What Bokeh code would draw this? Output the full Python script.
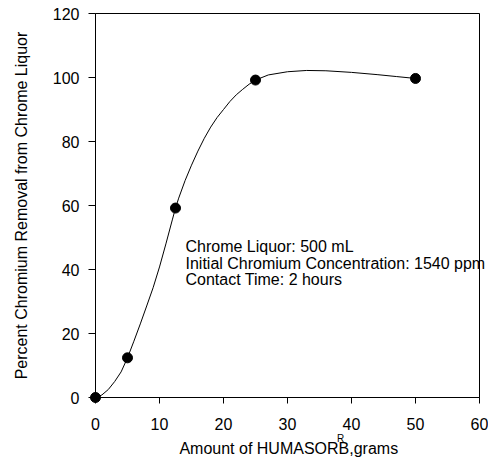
from bokeh.plotting import figure
from bokeh.models import Range1d, FixedTicker
from bokeh.core.properties import value
from bokeh.embed import file_html
from bokeh.resources import INLINE

# measured data points
amount_g = [0, 5, 12.5, 25, 50]
removal_pct = [0, 12.4, 59.2, 99.2, 99.7]

# smooth fitted curve
curve_x = [0, 1, 2, 3, 4, 5, 6, 7, 8, 9, 10, 11, 12, 12.5, 13, 14, 15, 16, 17, 18, 19,
           20, 21, 22, 23, 24, 25, 27, 30, 33, 36, 40, 44, 47, 50]
curve_y = [0, 0.8, 2.5, 5, 8, 12.4, 17.6, 23, 28.6, 34.3, 40.8, 48, 55.5, 59.2, 62.3, 67.8,
           72.6, 77, 81, 84.5, 87.5, 90, 92.5, 94.6, 96.3, 97.9, 99.2, 100.8, 101.8, 102.2,
           102.1, 101.6, 100.9, 100.3, 99.7]

x_ticks = [0, 10, 20, 30, 40, 50, 60]
y_ticks = [0, 20, 40, 60, 80, 100, 120]

x_title = "Amount of HUMASORB,grams"
y_title = "Percent Chromium Removal from Chrome Liquor"

notes = ["Chrome Liquor: 500 mL",
         "Initial Chromium Concentration: 1540 ppm",
         "Contact Time: 2 hours"]
note_x = [14.06, 14.06, 14.06]
note_y = [47.1, 41.9, 36.9]

FONT = "Liberation Sans"

p = figure(width=488, height=459, output_backend="svg", toolbar_location=None,
           x_range=Range1d(0, 60), y_range=Range1d(0, 120),
           min_border_left=95, min_border_right=9, min_border_top=13, min_border_bottom=62)

p.xgrid.visible = False
p.ygrid.visible = False
p.outline_line_color = "black"
p.outline_line_width = 1

p.line(curve_x, curve_y, line_color="black", line_width=1)
p.scatter(amount_g, removal_pct, size=10, color="black", level="overlay")

p.xaxis.ticker = FixedTicker(ticks=x_ticks)
p.yaxis.ticker = FixedTicker(ticks=y_ticks)
for ax in (p.xaxis[0], p.yaxis[0]):
    ax.minor_tick_line_color = None
    ax.major_tick_in = 0
    ax.axis_line_color = "black"
    ax.major_tick_line_color = "black"
    ax.major_label_text_font = FONT
    ax.major_label_text_font_size = "16px"
    ax.major_label_text_color = "black"
    ax.axis_label_text_font = FONT
    ax.axis_label_text_font_size = "16px"
    ax.axis_label_text_font_style = "normal"
    ax.axis_label_text_color = "black"

p.xaxis.major_tick_out = 6
p.yaxis.major_tick_out = 7
p.xaxis.major_label_standoff = 14
p.yaxis.major_label_standoff = 9
p.yaxis.axis_label = y_title
p.yaxis.axis_label_standoff = 20

# x-axis title drawn as text below the frame (exact placement)
p.text([30.2], [-15.8], text=[x_title], text_font=value(FONT), text_font_size="16px",
       text_baseline="middle", text_align="center", text_color="black", level="overlay")

p.text(note_x, note_y, text=notes, text_font=value(FONT), text_font_size="16px",
       text_baseline="middle", text_color="black", level="overlay")

p.text([38.3], [-12.9], text=["R"], text_font=value(FONT), text_font_size="10px",
       text_baseline="middle", text_align="center", text_color="black", level="overlay")

open("out.html", "w").write(file_html(p, INLINE))
